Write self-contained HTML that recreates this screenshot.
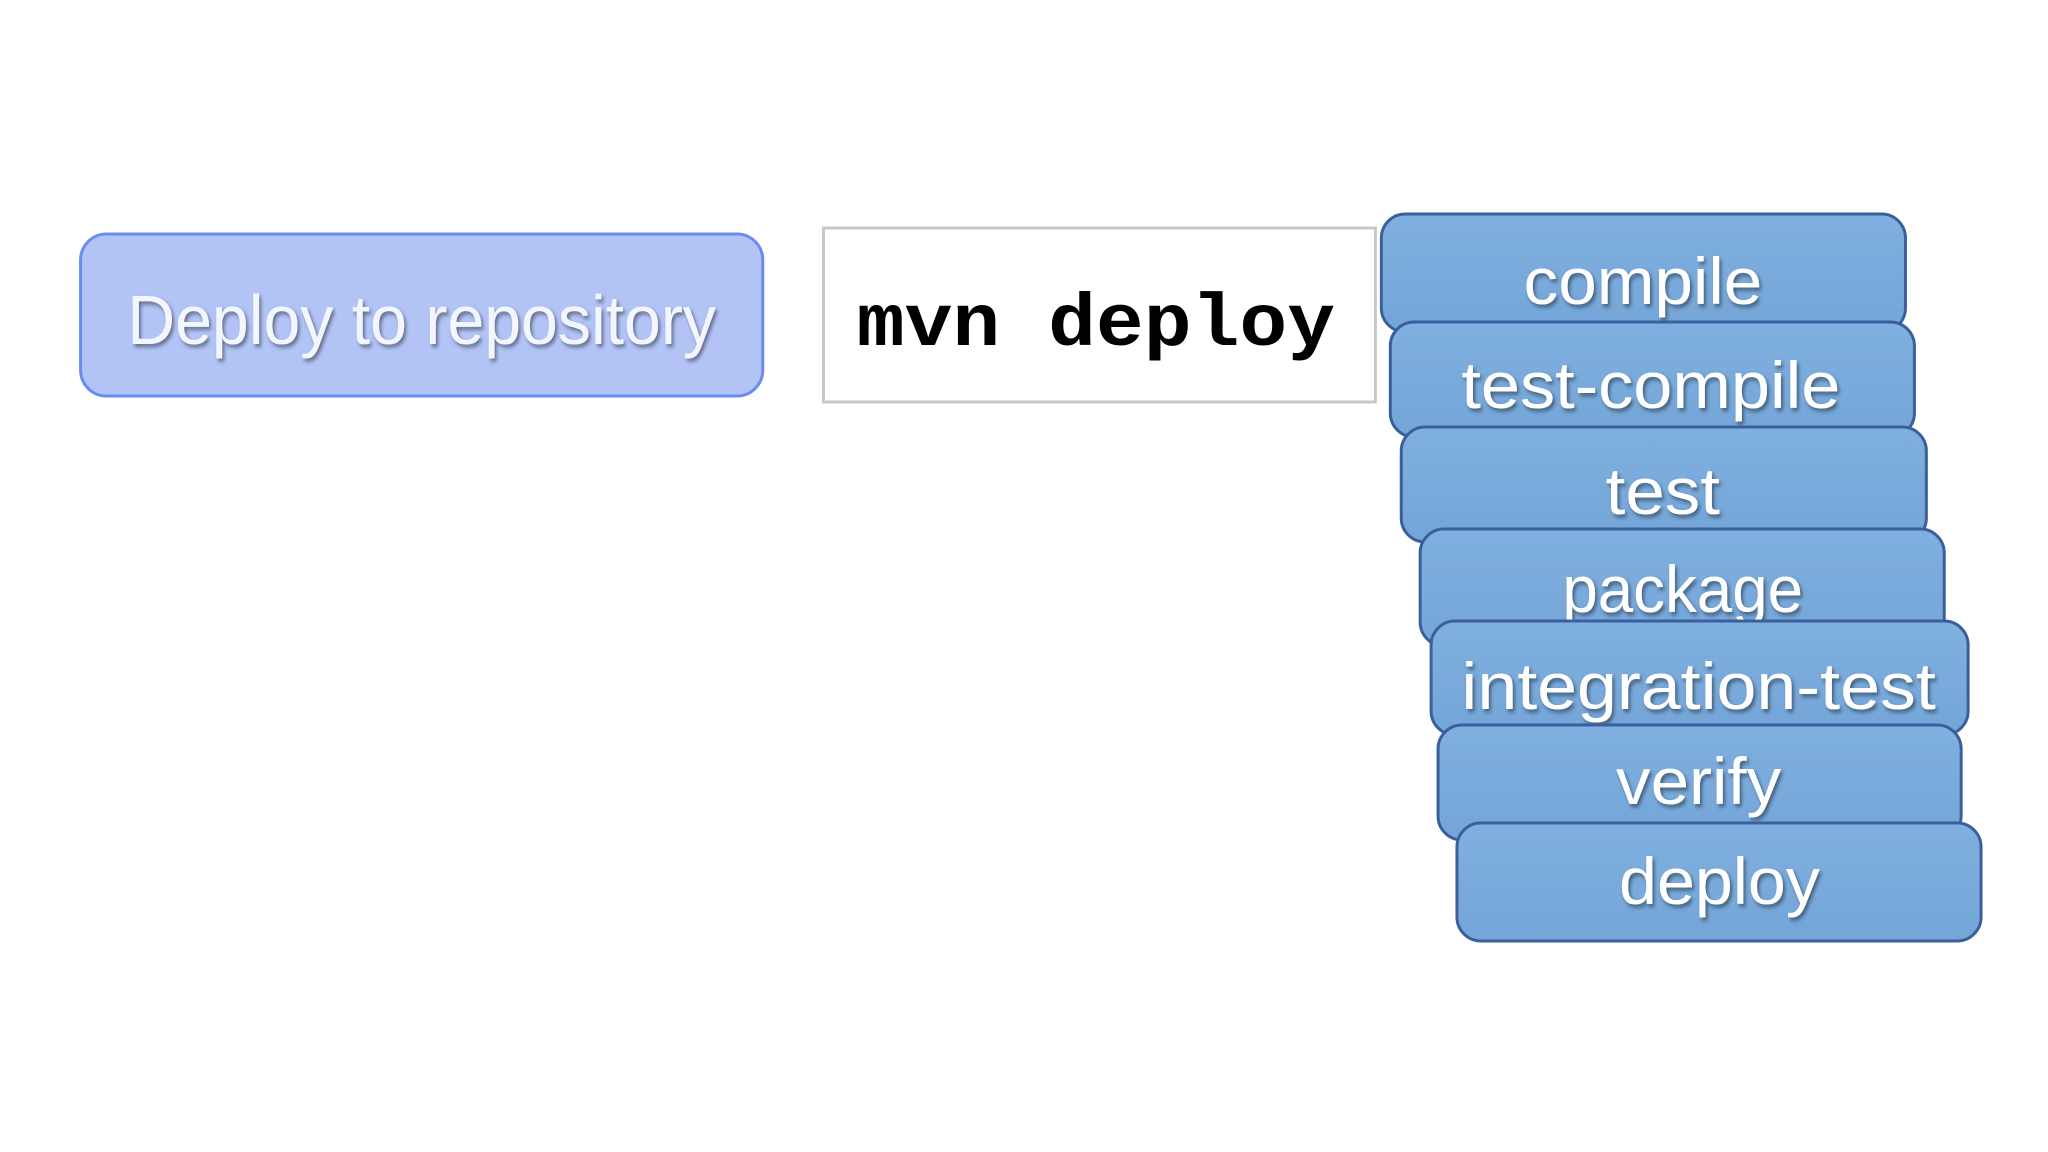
<!DOCTYPE html>
<html><head><meta charset="utf-8"><style>
html,body{margin:0;padding:0;background:#fff;width:2048px;height:1152px;overflow:hidden}
</style></head><body>
<svg width="2048" height="1152" viewBox="0 0 2048 1152" xmlns="http://www.w3.org/2000/svg">
<defs>
<filter id="ts" x="-10%" y="-30%" width="120%" height="160%">
<feDropShadow dx="2" dy="3" stdDeviation="2" flood-color="#000" flood-opacity="0.45"/>
</filter>
<linearGradient id="pg" x1="0" y1="0" x2="0" y2="1">
<stop offset="0" stop-color="#7fb0df"/><stop offset="1" stop-color="#74a5d8"/>
</linearGradient>
</defs>
<g transform="scale(0.9945,1)">
<rect x="81" y="234" width="686" height="162" rx="26" fill="#b2c4f6" stroke="#6a8cf0" stroke-width="3"/>
<text x="424" y="344" text-anchor="middle" font-family="Liberation Sans, sans-serif" font-size="70" fill="#f4f6ff" textLength="592" lengthAdjust="spacingAndGlyphs" filter="url(#ts)">Deploy to repository</text>
<rect x="828" y="228" width="555" height="174" fill="#fff" stroke="#c8c8c8" stroke-width="3"/>
<text x="1102" y="345" text-anchor="middle" font-family="Liberation Mono, monospace" font-weight="bold" font-size="74" fill="#000" textLength="481" lengthAdjust="spacingAndGlyphs">mvn deploy</text>
<g font-family="Liberation Sans, sans-serif" font-size="66" fill="#fff" text-anchor="middle" stroke="none">
<rect x="1389" y="214" width="527" height="118" rx="24" fill="url(#pg)" stroke="#3b5f9c" stroke-width="3"/>
<text x="1652" y="304" textLength="240" lengthAdjust="spacingAndGlyphs" filter="url(#ts)">compile</text>
<rect x="1398" y="322" width="527" height="115" rx="24" fill="url(#pg)" stroke="#3b5f9c" stroke-width="3"/>
<text x="1660" y="408" textLength="381" lengthAdjust="spacingAndGlyphs" filter="url(#ts)">test-compile</text>
<rect x="1409" y="427" width="528" height="115" rx="24" fill="url(#pg)" stroke="#3b5f9c" stroke-width="3"/>
<text x="1672" y="514" textLength="115" lengthAdjust="spacingAndGlyphs" filter="url(#ts)">test</text>
<rect x="1428" y="529" width="527" height="117" rx="24" fill="url(#pg)" stroke="#3b5f9c" stroke-width="3"/>
<text x="1692" y="612" textLength="242" lengthAdjust="spacingAndGlyphs" filter="url(#ts)">package</text>
<rect x="1439" y="621" width="540" height="114" rx="24" fill="url(#pg)" stroke="#3b5f9c" stroke-width="3"/>
<text x="1708" y="709" textLength="477" lengthAdjust="spacingAndGlyphs" filter="url(#ts)">integration-test</text>
<rect x="1446" y="725" width="526" height="115" rx="24" fill="url(#pg)" stroke="#3b5f9c" stroke-width="3"/>
<text x="1708" y="804" textLength="166" lengthAdjust="spacingAndGlyphs" filter="url(#ts)">verify</text>
<rect x="1465" y="823" width="527" height="118" rx="24" fill="url(#pg)" stroke="#3b5f9c" stroke-width="3"/>
<text x="1729" y="904" textLength="202" lengthAdjust="spacingAndGlyphs" filter="url(#ts)">deploy</text>
</g>
</g>
</svg>
</body></html>
